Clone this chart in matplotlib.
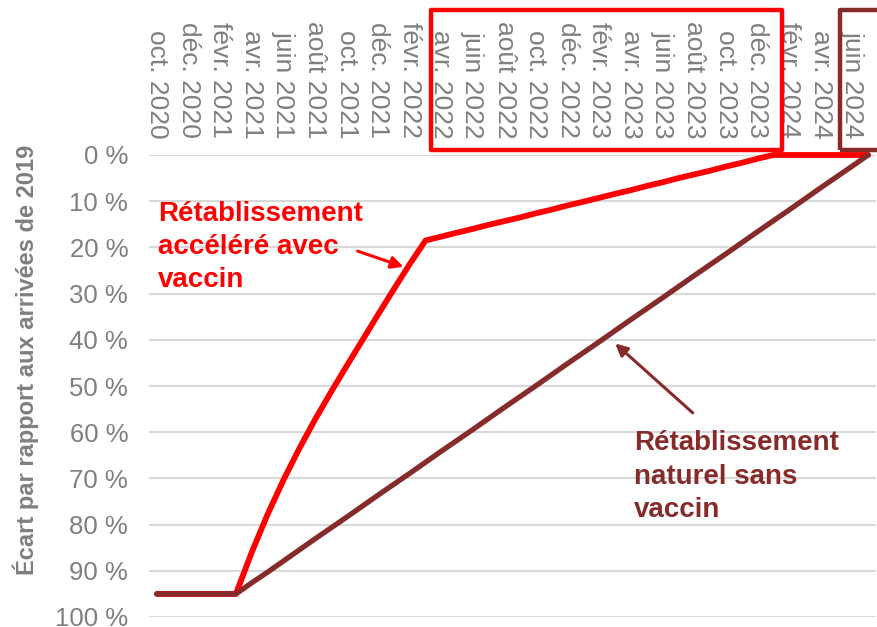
import matplotlib
matplotlib.use("Agg")
import matplotlib.pyplot as plt
from matplotlib.patches import Rectangle
import matplotlib.transforms as mtransforms

plt.rcParams['font.family'] = ['Liberation Sans', 'DejaVu Sans']

# ---- data ----
months = ["janv.", "févr.", "mars", "avr.", "mai", "juin", "juil.", "août",
          "sept.", "oct.", "nov.", "déc."]
categories = []
for y in range(2020, 2025):
    for i, m in enumerate(months):
        if (y == 2020 and i < 9) or (y == 2024 and i > 6):
            continue
        categories.append(f"{m} {y}")

vaccine = [95, 95, 95, 95, 95, 95, 86, 77.8, 70.4, 63.6, 57.3, 51.4, 45.7,
           40.1, 34.5, 29.0, 23.6, 18.5, 17.66, 16.8, 15.98, 15.1, 14.3, 13.5,
           12.6, 11.8, 10.9, 10.1, 9.25, 8.4, 7.6, 6.7, 5.9, 5.0, 4.2, 3.4,
           2.5, 1.7, 0.8, 0, 0, 0, 0, 0, 0, 0]
natural = [95, 95, 95, 95, 95, 95, 92.6, 90.3, 87.9, 85.5, 83.1, 80.75, 78.4,
           76.0, 73.6, 71.25, 68.9, 66.5, 64.1, 61.75, 59.4, 57.0, 54.6,
           52.25, 49.9, 47.5, 45.1, 42.75, 40.4, 38.0, 35.6, 33.25, 30.9,
           28.5, 26.1, 23.75, 21.4, 19.0, 16.6, 14.25, 11.9, 9.5, 7.1, 4.75,
           2.4, 0]
yticks = [0, 10, 20, 30, 40, 50, 60, 70, 80, 90, 100]
ytick_labels = [f"{v} %" for v in yticks]
ylabel = "Écart par rapport aux arrivées de 2019"
label_vaccine = "Rétablissement\naccéléré avec\nvaccin"
label_natural = "Rétablissement\nnaturel sans\nvaccin"

RED = "#ff0000"
BROWN = "#862b2b"
GRAY = "#7f7f7f"
GRID = "#d9d9d9"

W, H = 877, 627
fig = plt.figure(figsize=(W / 100, H / 100), dpi=100)
ax = fig.add_axes([149 / W, 10 / H, 727 / W, 462 / H])

x = list(range(len(categories)))
ax.plot(x, vaccine, color=RED, lw=4.2, solid_capstyle='round',
        solid_joinstyle='round', zorder=3, clip_on=False)
ax.plot(x, natural, color=BROWN, lw=3.8, solid_capstyle='round',
        solid_joinstyle='round', zorder=4, clip_on=False)

ax.set_xlim(-0.5, len(categories) - 0.5)
ax.set_ylim(100, 0)
ax.set_yticks(yticks)
ax.set_yticklabels(ytick_labels)
ax.yaxis.grid(True, color=GRID, lw=1.5)
ax.set_axisbelow(True)
for s in ax.spines.values():
    s.set_visible(False)

ax.xaxis.tick_top()
ax.set_xticks(x[::2])
ax.set_xticklabels(categories[::2], rotation=-90, ha='center', va='bottom')
ax.tick_params(axis='x', length=0, pad=12, labelsize=19, labelcolor=GRAY)
ax.tick_params(axis='y', length=0, pad=15, labelsize=18.5, labelcolor=GRAY)

fig.text(26 / W, 1 - 360 / H, ylabel, rotation=90, ha='center', va='center',
         fontsize=17, fontweight='bold', color=GRAY)

# annotations
ax.annotate(label_vaccine, xy=(15.5, 25), xytext=(0.05, 9.9),
            color=RED, fontsize=20, fontweight='bold', ha='left', va='top',
            linespacing=1.36, annotation_clip=False)
ax.annotate("", xy=(15.6, 24.2), xytext=(12.7, 20.8),
            arrowprops=dict(arrowstyle='-|>', color=RED, lw=2.2,
                            mutation_scale=18, shrinkA=0, shrinkB=0))
ax.annotate(label_natural, xy=(30, 60), xytext=(30.2, 59.6),
            color=BROWN, fontsize=20, fontweight='bold', ha='left', va='top',
            linespacing=1.36, annotation_clip=False)
ax.annotate("", xy=(29.0, 40.8), xytext=(33.9, 55.8),
            arrowprops=dict(arrowstyle='-|>', color=BROWN, lw=2.2,
                            mutation_scale=18, shrinkA=0, shrinkB=0))

# highlight boxes around tick label groups
trans = mtransforms.blended_transform_factory(ax.transData, fig.transFigure)
ax.add_patch(Rectangle((17.35, 1 - 150 / H), 39.55 - 17.35, 140 / H,
                       transform=trans, fill=False, edgecolor=RED, lw=3.2,
                       clip_on=False, joinstyle='round'))
ax.add_patch(Rectangle((43.2, 1 - 150 / H), 3.0, 140 / H,
                       transform=trans, fill=False, edgecolor=BROWN, lw=3.2,
                       clip_on=False, joinstyle='round'))

fig.savefig("out.png", dpi=100)
